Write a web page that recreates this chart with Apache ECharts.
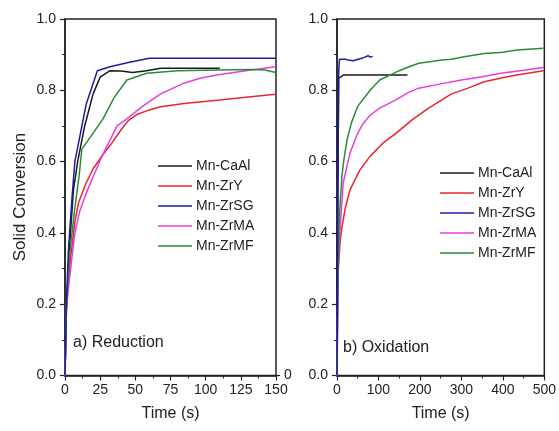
<!DOCTYPE html>
<html>
<head>
<meta charset="utf-8">
<script src="https://cdn.jsdelivr.net/npm/echarts@6/dist/echarts.min.js"></script>
<style>html,body{margin:0;padding:0;background:#fff}#c{width:559px;height:431px}</style>
</head>
<body>
<div id="c"></div>
<script>
// ---- data ----
const seriesNames = ['Mn-CaAl', 'Mn-ZrY', 'Mn-ZrSG', 'Mn-ZrMA', 'Mn-ZrMF'];
const seriesColors = ['#1a1a1a', '#e8262e', '#1c1ca8', '#e83ee0', '#2f8a36'];

const xTicksReduction = [0, 25, 50, 75, 100, 125, 150];
const xTicksOxidation = [0, 100, 200, 300, 400, 500];
const yTicks = [0.0, 0.2, 0.4, 0.6, 0.8, 1.0];

// a) Reduction  [time (s), solid conversion]
const redCaAl = [[0,0],[1,0.18],[3,0.35],[6,0.52],[9,0.6],[14,0.7],[20,0.79],[25,0.837],[32,0.855],[40,0.854],[48,0.85],[58,0.855],[68,0.862],[110,0.862]];
const redZrY = [[0,0],[1,0.2],[4,0.33],[7,0.43],[9.5,0.483],[15,0.54],[20,0.58],[27,0.62],[32,0.645],[40,0.69],[45,0.715],[51,0.732],[60,0.745],[68,0.754],[84.5,0.763],[110,0.773],[132,0.782],[150,0.789]];
const redZrSG = [[0,0],[1,0.2],[2.4,0.35],[5,0.5],[7,0.6],[9.5,0.65],[15,0.76],[23,0.855],[32,0.866],[45,0.878],[60,0.89],[150,0.89]];
const redZrMA = [[0,0],[1,0.19],[4,0.3],[7,0.4],[10.7,0.464],[16,0.52],[25,0.604],[37,0.7],[44,0.72],[55,0.755],[68,0.79],[84.5,0.82],[96,0.834],[108,0.843],[132,0.857],[150,0.866]];
const redZrMF = [[0,0],[1,0.2],[3,0.33],[7,0.47],[10,0.56],[12,0.635],[20,0.68],[27,0.72],[35,0.78],[44,0.829],[58,0.848],[80,0.855],[110,0.857],[132,0.858],[142,0.857],[150,0.85]];

// b) Oxidation
const oxCaAl = [[0,0],[2,0.5],[4,0.834],[10,0.838],[16,0.843],[170,0.843]];
const oxZrY = [[0,0],[3,0.3],[8,0.38],[12,0.417],[20,0.47],[31,0.52],[55,0.576],[79,0.614],[110,0.651],[142,0.679],[181,0.717],[221,0.75],[276,0.79],[316,0.806],[355,0.824],[411,0.838],[434,0.843],[498,0.855]];
const oxZrSG = [[0,0],[2,0.5],[4,0.85],[6,0.887],[20,0.887],[30,0.884],[39,0.883],[51,0.887],[60,0.89],[67,0.893],[75,0.897],[80,0.893],[86,0.895]];
const oxZrMA = [[0,0],[2,0.25],[5,0.37],[8,0.42],[15,0.54],[31,0.623],[50,0.68],[63,0.707],[80,0.73],[103,0.75],[142,0.773],[174,0.795],[197,0.806],[250,0.818],[300,0.829],[350,0.838],[395,0.848],[450,0.856],[498,0.864]];
const oxZrMF = [[0,0],[2,0.25],[5,0.42],[8,0.49],[12,0.56],[16,0.6],[24,0.66],[35,0.71],[50,0.755],[63,0.775],[80,0.8],[103,0.829],[150,0.855],[174,0.866],[197,0.876],[253,0.885],[276,0.887],[300,0.893],[355,0.903],[400,0.907],[434,0.913],[498,0.918]];

const reductionData = [redCaAl, redZrY, redZrSG, redZrMA, redZrMF];
const oxidationData = [oxCaAl, oxZrY, oxZrSG, oxZrMA, oxZrMF];

// ---- chart ----
const FONT = '"Liberation Sans", Arial, sans-serif';
const axisCol = '#222';
function xAxis(gi, max, interval, labels) {
  return {
    type: 'value', gridIndex: gi, min: 0, max: max, interval: interval,
    name: 'Time (s)', nameLocation: 'middle', nameGap: 30,
    nameTextStyle: {fontFamily: FONT, fontSize: 16, color: '#222'},
    axisLine: {show: true, lineStyle: {color: axisCol, width: 1.5}},
    axisTick: {show: true, length: 5, lineStyle: {color: axisCol, width: 1.2}},
    minorTick: {show: true, splitNumber: 2, length: 3, lineStyle: {color: axisCol, width: 1}},
    splitLine: {show: false},
    axisLabel: {fontFamily: FONT, fontSize: 14, color: '#222', margin: 8,
      formatter: v => labels.includes(v) ? String(v) : ''}
  };
}
function yAxis(gi) {
  return {
    type: 'value', gridIndex: gi, min: 0, max: 1, interval: 0.2,
    axisLine: {show: true, lineStyle: {color: axisCol, width: 1.5}},
    axisTick: {show: true, length: 5, lineStyle: {color: axisCol, width: 1.2}},
    minorTick: {show: true, splitNumber: 2, length: 3, lineStyle: {color: axisCol, width: 1}},
    splitLine: {show: false},
    axisLabel: {fontFamily: FONT, fontSize: 14, color: '#222', margin: 9,
      formatter: v => {const t = yTicks.find(k => Math.abs(k - v) < 1e-9); return t === undefined ? '' : t.toFixed(1);}}
  };
}
const series = [];
[reductionData, oxidationData].forEach((set, gi) => {
  set.forEach((d, i) => {
    series.push({
      type: 'line', name: seriesNames[i], xAxisIndex: gi, yAxisIndex: gi,
      data: d, symbol: 'none', smooth: false, animation: false,
      lineStyle: {color: seriesColors[i], width: 1.5}, itemStyle: {color: seriesColors[i]},
      z: 3 + (i === 2 ? 1 : 0)
    });
  });
});
function legend(left, top) {
  return {
    orient: 'vertical', left: left, top: top,
    data: seriesNames.map((n, i) => ({name: n, icon: 'rect', itemStyle: {color: seriesColors[i]}})),
    itemWidth: 34, itemHeight: 1.6, itemGap: 6, selectedMode: false,
    textStyle: {fontFamily: FONT, fontSize: 14, color: '#222', lineHeight: 14, padding: [0,0,0,-1]},
    padding: 0
  };
}
const chart = echarts.init(document.getElementById('c'), null, {renderer: 'canvas'});
chart.setOption({
  backgroundColor: '#fff',
  animation: false,
  grid: [
    {left: 65, top: 19, width: 211, height: 356.5, show: true, borderColor: axisCol, borderWidth: 1.5, backgroundColor: 'transparent'},
    {left: 337, top: 19, width: 211, height: 356.5, show: true, borderColor: axisCol, borderWidth: 1.5, backgroundColor: 'transparent'}
  ],
  xAxis: [xAxis(0, 150, 25, xTicksReduction), xAxis(1, 500, 100, xTicksOxidation)],
  yAxis: [yAxis(0), yAxis(1)],
  legend: [legend(158, 159), legend(440, 166)],
  series: series,
  graphic: [
    {type: 'text', x: 20, y: 197, rotation: Math.PI / 2,
      style: {text: 'Solid Conversion', font: '17px ' + FONT, fill: '#222', textAlign: 'center', textVerticalAlign: 'middle'}},
    {type: 'text', x: 73, y: 343,
      style: {text: 'a) Reduction', font: '16px ' + FONT, fill: '#222', textAlign: 'left', textVerticalAlign: 'middle'}},
    {type: 'text', x: 343, y: 348,
      style: {text: 'b) Oxidation', font: '16px ' + FONT, fill: '#222', textAlign: 'left', textVerticalAlign: 'middle'}},
    {type: 'line', shape: {x1: 276, y1: 375.5, x2: 280, y2: 375.5}, style: {stroke: axisCol, lineWidth: 1.2}},
    {type: 'text', x: 284, y: 375,
      style: {text: '0', font: '14px ' + FONT, fill: '#222', textAlign: 'left', textVerticalAlign: 'middle'}}
  ]
});
</script>
</body>
</html>
